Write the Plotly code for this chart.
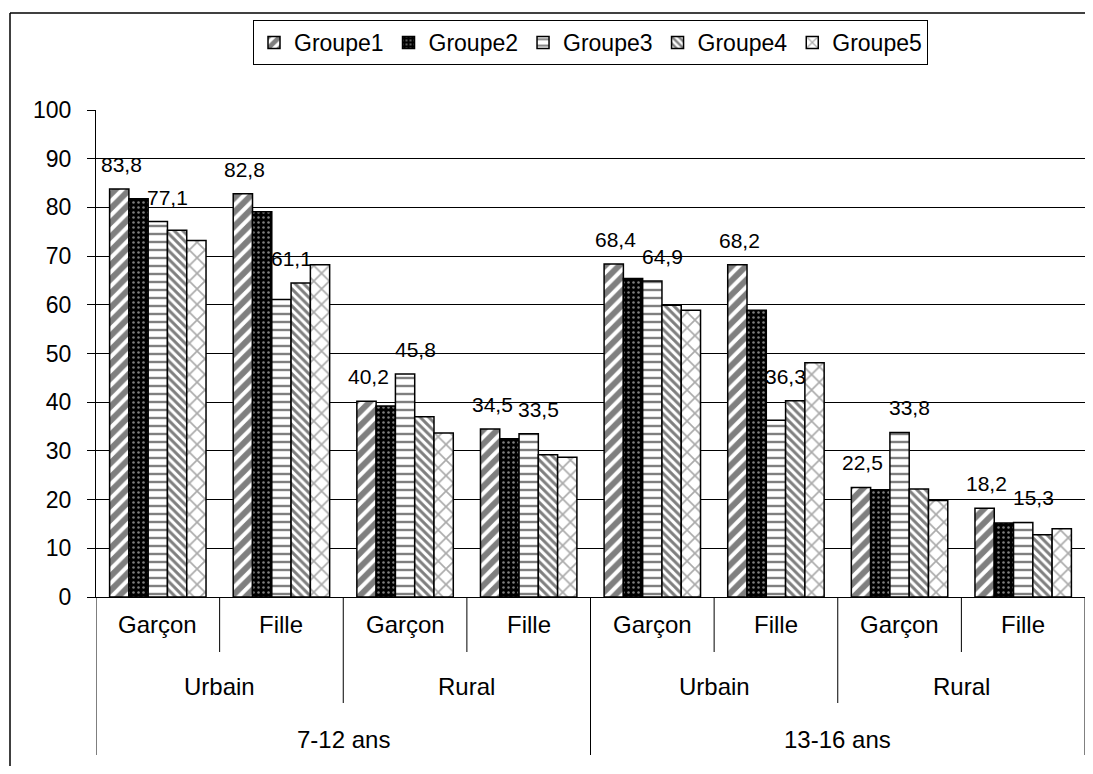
import plotly.graph_objects as go

# ---- data ----
ages = ["7-12 ans", "13-16 ans"]
milieux = ["Urbain", "Rural"]
sexes = ["Garçon", "Fille"]
groups = ["Groupe1", "Groupe2", "Groupe3", "Groupe4", "Groupe5"]

# order: 7-12 Urbain Garçon, Fille, Rural Garçon, Fille, 13-16 Urbain Garçon, Fille, Rural Garçon, Fille
groupe1 = [83.8, 82.8, 40.2, 34.5, 68.4, 68.2, 22.5, 18.2]
groupe2 = [81.8, 79.1, 39.2, 32.5, 65.4, 58.9, 22.0, 15.2]
groupe3 = [77.1, 61.1, 45.8, 33.5, 64.9, 36.3, 33.8, 15.3]
groupe4 = [75.3, 64.5, 37.0, 29.2, 59.9, 40.3, 22.2, 12.8]
groupe5 = [73.2, 68.2, 33.7, 28.7, 58.9, 48.1, 19.8, 14.0]
labelled = [True, False, True, False, False]

values = [groupe1, groupe2, groupe3, groupe4, groupe5]

FONT = "Arial, Liberation Sans, sans-serif"
FS = 23
FS_LABEL = 21
FS_CAT = 24

patterns = [
    dict(shape="/", bgcolor="white", fgcolor="black", size=10, solidity=0.6),
    dict(shape=".", bgcolor="black", fgcolor="white", size=5, solidity=0.2),
    dict(shape="-", bgcolor="white", fgcolor="black", size=8, solidity=0.3),
    dict(shape="\\", bgcolor="white", fgcolor="black", size=6, solidity=0.5),
    dict(shape="x", bgcolor="white", fgcolor="#555555", size=11, solidity=0.28),
]
label_xshift = [2, 0, 10, 0, 0]

# ---- geometry (figure pixels) ----
W, H = 1077, 758
L, R, T = 88, 0, 102
PH = 487.0
B = H - T - int(PH)
PW = W - L - R
BARGAP = 0.22

n = len(groupe1)
xs = list(range(n))
ntr = len(groups)

fig = go.Figure()
for idx, (name, vals, pat) in enumerate(zip(groups, values, patterns)):
    fig.add_trace(go.Bar(
        x=xs, y=vals, name=name,
        marker=dict(color="white", pattern=pat, line=dict(color="black", width=1.5)),
        hoverinfo="skip",
    ))

def py(px_below_zero):
    return -px_below_zero / PH

annotations = []
# value labels (on top of all bars); a label sits above its bar and the next, taller neighbour
bw = (1 - BARGAP) / ntr
for idx, (vals, lab) in enumerate(zip(values, labelled)):
    if not lab:
        continue
    for i, v in enumerate(vals):
        xc = i - (1 - BARGAP) / 2 + bw * (idx + 0.5)
        anchor = v
        if idx + 1 < ntr:
            anchor = max(v, values[idx + 1][i])
        annotations.append(dict(x=xc, y=anchor, xref="x", yref="y", text=f"{v:.1f}".replace(".", ","),
                                showarrow=False, yanchor="bottom", yshift=11, xshift=label_xshift[idx],
                                font=dict(family=FONT, size=FS_LABEL, color="black")))

shapes = []
sex_labels = [sexes[i % 2] for i in range(n)]
for i, s in enumerate(sex_labels):
    annotations.append(dict(x=i, y=py(27), xref="x", yref="paper", text=s, showarrow=False,
                            font=dict(family=FONT, size=FS_CAT, color="black"), yanchor="middle"))
for j in range(4):
    annotations.append(dict(x=2 * j + 0.5, y=py(89), xref="x", yref="paper", text=milieux[j % 2],
                            showarrow=False, font=dict(family=FONT, size=FS_CAT, color="black"), yanchor="middle"))
for k in range(2):
    annotations.append(dict(x=4 * k + 1.5, y=py(142), xref="x", yref="paper", text=ages[k],
                            showarrow=False, font=dict(family=FONT, size=FS_CAT, color="black"), yanchor="middle"))

for b in range(n + 1):
    xb = b - 0.5
    if b % 4 == 0:
        depth = 158
    elif b % 2 == 0:
        depth = 106
    else:
        depth = 55
    shapes.append(dict(type="line", xref="x", yref="paper", x0=xb, x1=xb, y0=0, y1=py(depth),
                       line=dict(color="black", width=1)))

# outer chart border (left and top edges visible in the frame)
bx0 = (2 - L) / PW
by1 = (T + PH - 5) / PH
shapes.append(dict(type="line", xref="paper", yref="paper", x0=bx0, x1=(W + 20 - L) / PW, y0=by1, y1=by1,
                   line=dict(color="black", width=1.5), layer="below"))
shapes.append(dict(type="line", xref="paper", yref="paper", x0=bx0, x1=bx0, y0=by1, y1=py(200),
                   line=dict(color="black", width=1.5), layer="below"))

fig.update_layout(
    width=W, height=H,
    margin=dict(l=L, r=R, t=T, b=B, pad=0),
    paper_bgcolor="white", plot_bgcolor="white",
    barmode="group", bargap=BARGAP, bargroupgap=0,
    font=dict(family=FONT, size=FS, color="black"),
    showlegend=True,
    legend=dict(orientation="h", x=0.5, xanchor="center", y=(T + PH - 12) / PH, yanchor="top",
                bordercolor="black", borderwidth=1, font=dict(family=FONT, size=FS, color="black"),
                itemwidth=30, bgcolor="white", tracegroupgap=0),
    shapes=shapes, annotations=annotations,
)
fig.update_xaxes(range=[-0.5, n - 0.5], showticklabels=False, ticks="", showgrid=False,
                 showline=True, linecolor="black", linewidth=1, zeroline=False, fixedrange=True)
fig.update_yaxes(range=[0, 100], dtick=10, showgrid=True, gridcolor="black", gridwidth=1,
                 ticks="outside", ticklen=8, tickcolor="black", showline=True, linecolor="black",
                 linewidth=1, zeroline=False, tickfont=dict(family=FONT, size=FS, color="black"),
                 ticklabelstandoff=11)

fig.write_html("out.html")
